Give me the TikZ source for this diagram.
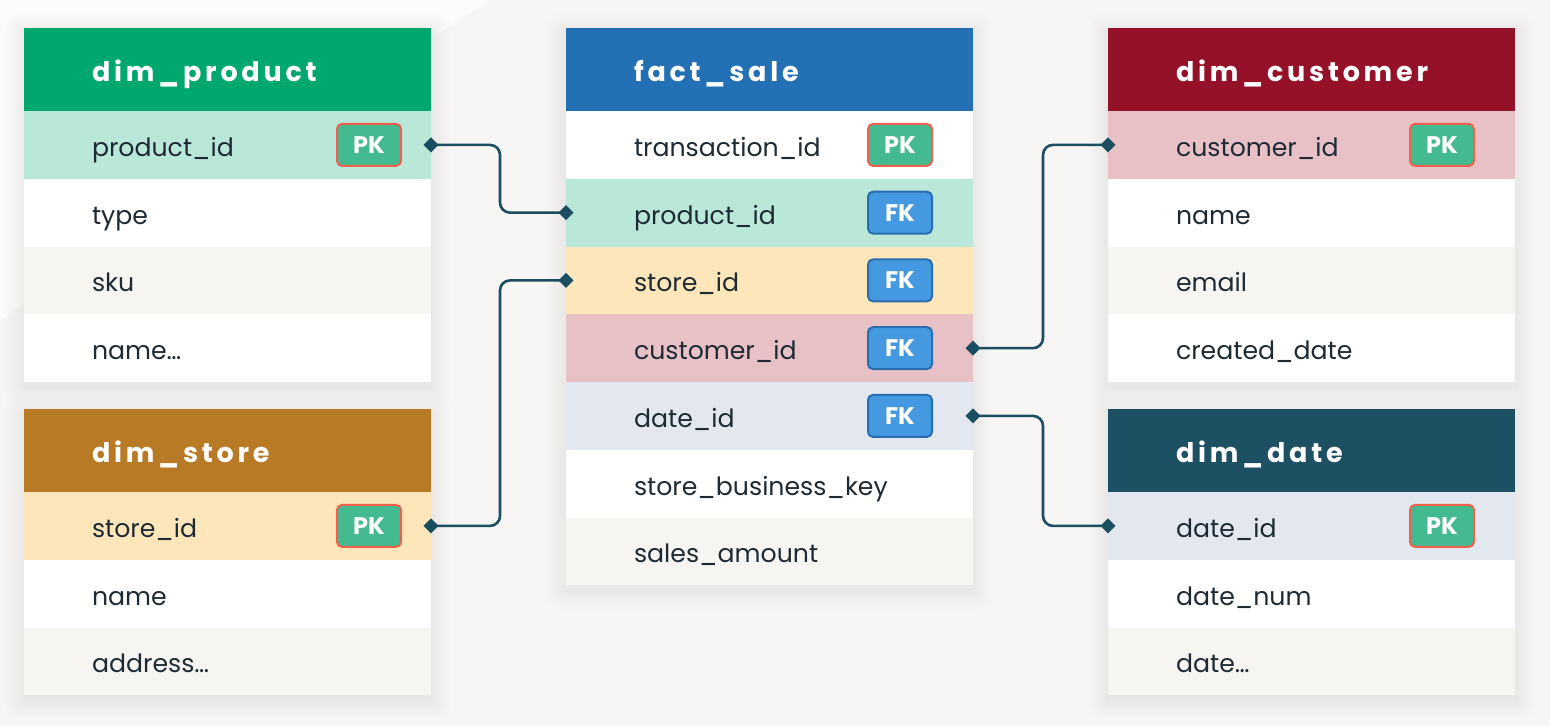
\documentclass[tikz,border=0pt]{standalone}
\usepackage{fontspec}
\setmainfont{Poppins}
\newfontfamily\hdrfont[LetterSpace=14]{Poppins}
\usetikzlibrary{arrows.meta}
\definecolor{bgc}{HTML}{F7F6F4}
\definecolor{bglight}{HTML}{FBFBFA}
\definecolor{offw}{HTML}{F7F5F1}
\definecolor{mint}{HTML}{B9E8D8}
\definecolor{yel}{HTML}{FDE6B9}
\definecolor{pinkr}{HTML}{E8C1C7}
\definecolor{bluegr}{HTML}{E3E8F0}
\definecolor{hgreen}{HTML}{00A870}
\definecolor{hblue}{HTML}{2370B5}
\definecolor{hred}{HTML}{95112A}
\definecolor{hbrown}{HTML}{B87A24}
\definecolor{hteal}{HTML}{1D5062}
\definecolor{linecol}{HTML}{1C4E61}
\definecolor{txt}{HTML}{1E2B35}
\definecolor{pkfill}{HTML}{43BA8F}
\definecolor{pkdraw}{HTML}{F0604D}
\definecolor{fkfill}{HTML}{4599E0}
\definecolor{fkdraw}{HTML}{2B6DB1}
\tikzset{
  hdr/.style={anchor=north west, minimum width=407pt, minimum height=83pt,
    inner xsep=68pt, text width=271pt, inner ysep=0pt, outer sep=0pt,
    text height=26pt, text depth=3pt,
    text=white, font=\hdrfont\bfseries\fontsize{27}{30}\selectfont},
  row/.style={anchor=north west, minimum width=407pt, minimum height=67.75pt,
    inner xsep=68pt, text width=271pt, inner ysep=0pt, outer sep=0pt,
    text height=25pt, text depth=2pt,
    text=txt, font=\fontsize{25.2}{28}\selectfont},
  badge/.style={rounded corners=5pt, minimum width=64pt, minimum height=42pt,
    inner sep=0pt, line width=2pt, text=white,
    font=\bfseries\fontsize{24}{28}\selectfont},
  pk/.style={badge, fill=pkfill, draw=pkdraw},
  fk/.style={badge, fill=fkfill, draw=fkdraw},
  shadowlayer/.style={fill=black, opacity=0.005},
  conn/.style={draw=linecol, line width=2.6pt, rounded corners=10pt,
    {Diamond[length=15pt,width=15pt]}-{Diamond[length=15pt,width=15pt]},
    shorten <=-7.5pt, shorten >=-7.5pt},
}
\newcommand\softshadow[4]{%
  \foreach \k in {1,...,14}
    \fill[shadowlayer, rounded corners=\k pt] (#1-1.4*\k,#2-1.4*\k+5) rectangle (#3+1.4*\k,#4+1.4*\k+5);}
\begin{document}
\begin{tikzpicture}[x=1pt,y=-1pt]
\useasboundingbox (0,0) rectangle (1550,726);
\fill[bgc] (0,0) rectangle (1550,726);
\fill[bglight] (0,0) -- (490,0) -- (0,320) -- cycle;

% shadows
\softshadow{24}{28}{431}{382}
\softshadow{24}{409}{431}{695}
\softshadow{566}{28}{973}{585}
\softshadow{1108}{28}{1515}{382}
\softshadow{1108}{409}{1515}{695}

% dim_product
\node[hdr, fill=hgreen] (prod-h) at (24,28) {dim\_product};
\foreach \t/\c [count=\i] in {product\_id/mint, type/white, sku/offw, name…/white}
  \node[row, fill=\c] (prod-\i) at (24,{111+(\i-1)*67.75}) {\t};
\node[pk] (prod-pk) at ([xshift=-62pt]prod-1.east) {PK};

% dim_store
\node[hdr, fill=hbrown] (store-h) at (24,409) {dim\_store};
\foreach \t/\c [count=\i] in {store\_id/yel, name/white, address…/offw}
  \node[row, fill=\c] (store-\i) at (24,{492+(\i-1)*67.75}) {\t};
\node[pk] (store-pk) at ([xshift=-62pt]store-1.east) {PK};

% fact_sale
\node[hdr, fill=hblue] (fact-h) at (566,28) {fact\_sale};
\foreach \t/\c [count=\i] in {transaction\_id/white, product\_id/mint, store\_id/yel,
    customer\_id/pinkr, date\_id/bluegr, store\_business\_key/white, sales\_amount/offw}
  \node[row, fill=\c] (fact-\i) at (566,{111+(\i-1)*67.75}) {\t};
\node[pk] (fact-pk) at ([xshift=-73pt]fact-1.east) {PK};
\node[fk] (fact-fk2) at ([xshift=-73pt]fact-2.east) {FK};
\node[fk] (fact-fk3) at ([xshift=-73pt]fact-3.east) {FK};
\node[fk] (fact-fk4) at ([xshift=-73pt]fact-4.east) {FK};
\node[fk] (fact-fk5) at ([xshift=-73pt]fact-5.east) {FK};

% dim_customer
\node[hdr, fill=hred] (cust-h) at (1108,28) {dim\_customer};
\foreach \t/\c [count=\i] in {customer\_id/pinkr, name/white, email/offw, created\_date/white}
  \node[row, fill=\c] (cust-\i) at (1108,{111+(\i-1)*67.75}) {\t};
\node[pk] (cust-pk) at ([xshift=-73pt]cust-1.east) {PK};

% dim_date
\node[hdr, fill=hteal] (date-h) at (1108,409) {dim\_date};
\foreach \t/\c [count=\i] in {date\_id/bluegr, date\_num/white, date…/offw}
  \node[row, fill=\c] (date-\i) at (1108,{492+(\i-1)*67.75}) {\t};
\node[pk] (date-pk) at ([xshift=-73pt]date-1.east) {PK};

% connectors
\draw[conn] (prod-1.east) -- ++(69pt,0) |- (fact-2.west);
\draw[conn] (store-1.east) -- ++(69pt,0) |- (fact-3.west);
\draw[conn] (fact-4.east) -- ++(70pt,0) |- (cust-1.west);
\draw[conn] (fact-5.east) -- ++(70pt,0) |- (date-1.west);
\end{tikzpicture}
\end{document}
